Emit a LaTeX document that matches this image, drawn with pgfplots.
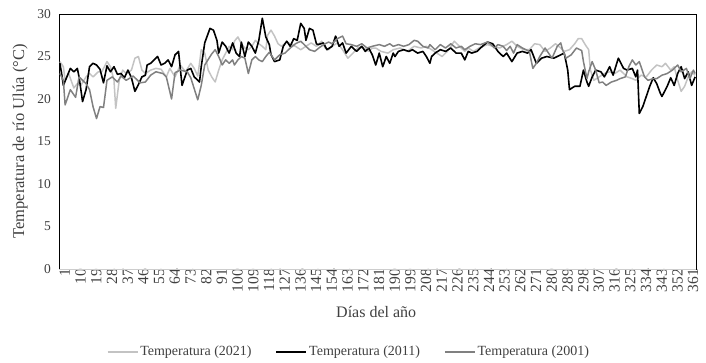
\documentclass[border=0pt]{standalone}
\usepackage{pgfplots}
\usepackage{pgfplotstable}
\usepackage{fontspec}
\setmainfont{Liberation Serif}
\pgfplotsset{compat=1.18}
\definecolor{lgray}{RGB}{195,195,195}
\definecolor{mgray}{RGB}{128,128,128}
\definecolor{axgray}{RGB}{205,205,205}

\pgfplotstableread{
d t
1 24.2
2 23.0
3 21.6
5 22.6
7 23.6
9 23.2
11 23.6
12 22.6
14 19.7
16 21.1
18 23.8
20 24.2
22 24.0
24 23.5
26 21.9
28 23.9
30 23.2
32 23.8
34 22.9
36 23.0
38 22.5
40 23.4
42 22.5
44 20.9
46 21.7
48 22.6
50 22.8
51 24.0
53 24.2
55 24.6
57 25.0
59 24.0
61 24.2
63 24.6
65 23.8
67 25.2
69 25.6
71 21.6
74 23.4
76 23.6
78 22.6
81 22.0
82 23.8
84 26.6
87 28.3
89 28.1
91 26.9
92 25.4
94 26.7
96 26.2
98 25.4
100 26.6
102 25.4
104 25.0
105 26.7
107 25.0
109 26.7
111 26.2
113 25.4
115 26.9
117 29.5
119 27.3
121 26.4
122 25.2
124 24.4
127 24.6
129 26.2
131 26.8
133 26.2
135 27.1
137 26.9
139 28.9
141 28.3
142 26.9
144 28.3
146 28.1
148 26.5
149 26.4
152 26.6
154 25.8
157 26.2
159 27.4
161 26.2
163 26.6
165 25.4
168 26.2
171 25.6
174 26.2
176 25.6
178 26.0
180 25.2
182 24.0
184 25.4
186 23.8
188 25.0
190 24.2
192 25.4
193 25.0
195 25.6
198 25.8
201 25.6
203 25.8
206 25.4
209 25.6
211 25.0
213 24.2
214 25.0
216 25.4
219 25.8
222 25.6
225 26.0
228 25.4
231 25.4
233 24.6
235 25.6
237 25.4
240 25.6
242 26.0
246 26.7
249 26.5
252 25.6
255 25.0
257 25.4
260 24.4
263 25.4
266 25.6
269 25.4
271 25.8
274 24.2
277 24.8
280 25.0
284 24.8
288 25.2
290 25.4
292 23.4
293 21.1
296 21.5
299 21.5
301 23.4
303 22.0
304 21.5
306 22.6
308 23.4
311 23.2
313 22.6
316 23.8
318 22.8
321 24.8
323 24.0
324 23.6
326 23.4
329 23.6
331 22.6
332 23.4
333 18.3
335 19.1
337 20.3
339 21.5
341 22.5
343 21.8
345 20.7
346 20.3
349 21.5
351 22.5
353 21.6
355 23.0
357 23.8
359 22.4
361 23.2
363 21.6
365 22.6
}\tblack

\pgfplotstableread{
d t
1 23.0
3 22.2
4 19.3
7 21.1
10 20.2
12 22.6
16 21.8
18 21.1
20 19.1
22 17.7
24 19.1
26 19.0
28 22.2
31 22.6
34 22.0
36 22.7
39 22.2
43 22.7
47 21.9
50 22.0
53 22.8
56 23.2
60 23.0
62 22.6
65 20.0
67 23.1
70 23.4
74 23.2
76 22.5
80 19.9
82 21.6
84 24.0
88 25.3
90 25.8
92 25.0
94 24.0
96 24.6
98 24.2
100 24.6
101 24.0
103 24.6
105 25.0
107 24.8
109 23.0
111 24.6
113 25.0
115 24.6
117 24.4
119 25.0
121 25.5
124 24.6
127 25.2
130 25.4
133 26.0
136 26.5
139 26.8
142 26.2
144 25.8
147 25.6
150 26.1
153 26.5
155 26.7
157 26.5
160 27.1
163 27.4
165 26.5
168 26.4
171 26.2
174 26.5
177 26.0
180 26.2
182 26.3
184 26.4
187 26.2
190 26.5
192 26.2
195 26.4
198 26.2
201 26.4
204 26.9
206 26.8
209 26.2
212 26.0
213 26.4
216 25.8
219 26.4
222 26.0
225 26.5
228 26.0
231 26.2
233 25.8
236 26.2
239 26.5
242 26.4
246 26.7
248 26.4
250 26.0
252 26.4
255 26.2
257 25.7
259 26.2
261 25.4
263 26.4
266 26.0
268 25.8
270 25.6
272 23.6
274 24.2
276 25.0
279 26.0
281 25.4
283 24.8
286 26.2
288 26.6
289 25.8
291 24.8
294 25.2
297 26.0
300 25.7
301 24.4
303 22.4
304 23.2
306 24.4
308 23.4
310 21.9
312 22.0
314 21.6
317 22.0
320 22.2
322 22.4
325 22.6
327 23.8
329 24.6
331 24.0
333 24.4
336 22.6
338 22.2
341 22.4
343 22.4
346 22.8
349 23.0
352 23.4
355 24.0
357 23.2
360 23.6
362 22.4
364 23.4
365 23.0
}\tmgray

\pgfplotstableread{
d t
1 24.4
3 23.8
4 22.2
6 23.0
9 21.3
11 21.8
13 21.6
16 22.6
18 23.0
20 22.6
23 23.2
25 23.2
28 24.4
30 23.8
32 22.2
33 18.9
35 22.2
37 23.4
39 23.0
42 23.4
44 24.8
46 25.0
47 24.2
48 23.4
50 23.0
53 23.4
56 23.6
59 23.5
62 22.6
64 23.6
67 22.6
70 24.0
73 23.2
76 24.2
78 23.6
80 22.7
81 24.2
82 25.8
84 25.4
86 23.4
88 22.6
90 22.0
92 23.4
94 24.6
96 25.4
98 26.2
100 25.8
101 26.8
103 27.3
105 26.5
107 26.0
109 25.8
111 26.2
113 26.9
115 26.5
117 26.2
119 25.8
120 27.5
122 28.1
124 27.4
126 26.5
128 26.2
131 26.7
134 26.4
136 26.2
139 25.8
142 26.2
145 26.6
148 26.2
151 26.8
153 26.0
155 25.8
157 26.2
160 26.6
163 25.8
166 24.8
169 25.4
172 26.1
175 26.0
178 25.6
180 26.0
182 26.0
185 25.6
189 25.4
192 25.8
196 26.0
200 25.6
204 26.2
208 26.0
211 26.2
214 25.8
217 25.4
220 25.0
223 25.6
227 26.8
230 26.2
233 25.6
235 26.0
238 25.6
242 26.1
246 26.4
249 26.2
253 26.0
257 26.4
260 26.8
263 26.2
267 25.8
270 25.8
273 26.5
276 26.4
279 25.6
282 26.0
285 26.5
288 26.0
290 25.6
293 25.8
296 26.5
298 27.1
300 27.1
302 26.4
304 25.8
305 23.4
307 22.2
310 22.6
313 23.0
316 23.2
319 23.0
322 23.4
324 23.0
326 22.6
329 22.4
331 22.2
334 22.8
337 22.6
340 23.4
343 24.0
346 23.8
348 24.2
351 23.4
353 23.8
355 22.2
357 20.9
359 21.5
361 22.6
363 23.2
365 22.8
}\tlgray

\begin{document}
\begin{tikzpicture}
\path[use as bounding box] (-59pt,-93pt) rectangle (647pt,269pt);
\begin{axis}[
  at={(0pt,0pt)}, anchor=south west,
  scale only axis,
  width=637pt, height=255pt,
  xmin=0.5, xmax=365.5,
  ymin=0, ymax=30,
  ytick={0,5,...,30},
  xtick={1,10,...,361},
  major tick length=0pt,
  axis line style={black, line width=0.8pt},
  /pgf/number format/assume math mode=true,
  yticklabel style={font=\fontsize{13.5}{14}\selectfont, inner sep=0pt, xshift=-8pt, text=black!75},
  xticklabel style={font=\fontsize{15.5}{16}\selectfont, rotate=90, anchor=east, inner sep=0pt, yshift=-5pt, text=black!75},
  ylabel={Temperatura de río Ulúa (°C)},
  xlabel={Días del año},
  every axis y label/.style={at={(axis description cs:-0.061,0.5)}, rotate=90, anchor=center, font=\fontsize{16.5}{17}\selectfont, text=black!75},
  every axis x label/.style={at={(axis description cs:0.498,-0.169)}, anchor=center, font=\fontsize{16}{17}\selectfont, text=black!75},
  legend style={at={(axis description cs:0.455,-0.325)}, anchor=center, draw=none, fill=none,
    legend columns=3, font=\fontsize{14}{15}\selectfont, text=black!75,
    /tikz/every even column/.append style={column sep=22pt}},
  legend image code/.code={\draw[#1] (0pt,0pt) -- (30pt,0pt);},
  clip=false,
]
\addplot[lgray, line width=1.5pt, line join=round] table[x=d, y=t] {\tlgray};
\addlegendentry{Temperatura (2021)}
\addplot[black, line width=1.6pt, line join=round] table[x=d, y=t] {\tblack};
\addlegendentry{Temperatura (2011)}
\addplot[mgray, line width=1.5pt, line join=round] table[x=d, y=t] {\tmgray};
\addlegendentry{Temperatura (2001)}
\draw[axgray, line width=1pt] (rel axis cs:0,0) -- (rel axis cs:1,0);
\end{axis}
\end{tikzpicture}
\end{document}
